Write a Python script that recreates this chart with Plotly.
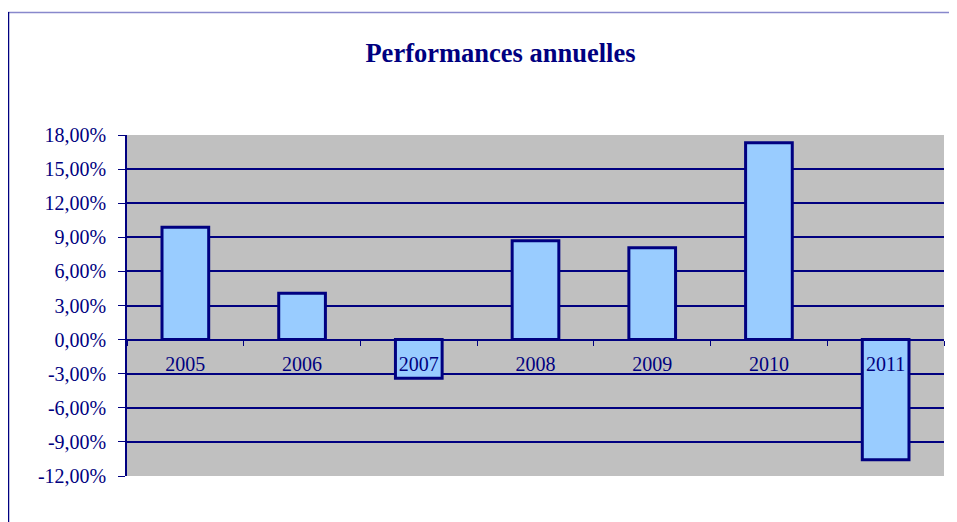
import plotly.graph_objects as go

years = ["2005", "2006", "2007", "2008", "2009", "2010", "2011"]
performance = [0.0988, 0.0407, -0.0340, 0.0870, 0.0808, 0.1732, -0.1056]
tick_values = [-0.12, -0.09, -0.06, -0.03, 0.0, 0.03, 0.06, 0.09, 0.12, 0.15, 0.18]
tick_labels = ["-12,00%", "-9,00%", "-6,00%", "-3,00%", "0,00%", "3,00%",
               "6,00%", "9,00%", "12,00%", "15,00%", "18,00%"]

NAVY = "#000080"
FONT = "Liberation Serif, Times New Roman, serif"

fig = go.Figure()
fig.add_trace(go.Bar(
    x=years, y=performance,
    marker=dict(color="#99CCFF", line=dict(color=NAVY, width=3)),
))

y_min, y_max = -0.12, 0.18
zero_frac = (0 - y_min) / (y_max - y_min)

fig.update_layout(
    width=949, height=514,
    margin=dict(l=119, r=13, t=127, b=46),
    paper_bgcolor="white", plot_bgcolor="#C0C0C0",
    showlegend=False,
    bargap=0.6,
    title=dict(text="<b>Performances annuelles</b>", x=(500.5 - 8) / 949, xanchor="center",
               y=1 - 45 / 514, yanchor="middle",
               font=dict(family=FONT, size=26.5, color=NAVY)),
    font=dict(family=FONT, color=NAVY, size=20),
    xaxis=dict(
        type="category", anchor="free", position=zero_frac,
        showline=True, linecolor=NAVY, linewidth=1.2,
        ticks="outside", tickson="boundaries", ticklen=5, tickcolor=NAVY,
        showgrid=False, ticklabelstandoff=6,
        tickfont=dict(family=FONT, size=20, color=NAVY),
    ),
    yaxis=dict(
        range=[y_min, y_max], tickmode="array",
        tickvals=tick_values, ticktext=tick_labels,
        showline=True, linecolor=NAVY, linewidth=1.5,
        ticks="outside", ticklen=7, tickcolor=NAVY,
        showgrid=True, gridcolor=NAVY, gridwidth=1.5,
        zeroline=True, zerolinecolor=NAVY, zerolinewidth=1.2,
        ticklabelstandoff=8,
        tickfont=dict(family=FONT, size=20, color=NAVY),
    ),
    shapes=[
        dict(type="line", xref="paper", yref="paper",
             x0=-119 / 817, x1=1.2, y0=1 + 122.5 / 341, y1=1 + 122.5 / 341,
             line=dict(color="#8888CC", width=1.5)),
        dict(type="line", xref="paper", yref="paper",
             x0=-118.5 / 817, x1=-118.5 / 817, y0=1 + 123 / 341, y1=-0.2,
             line=dict(color=NAVY, width=1.5)),
    ],
)

fig.write_html("out.html")
